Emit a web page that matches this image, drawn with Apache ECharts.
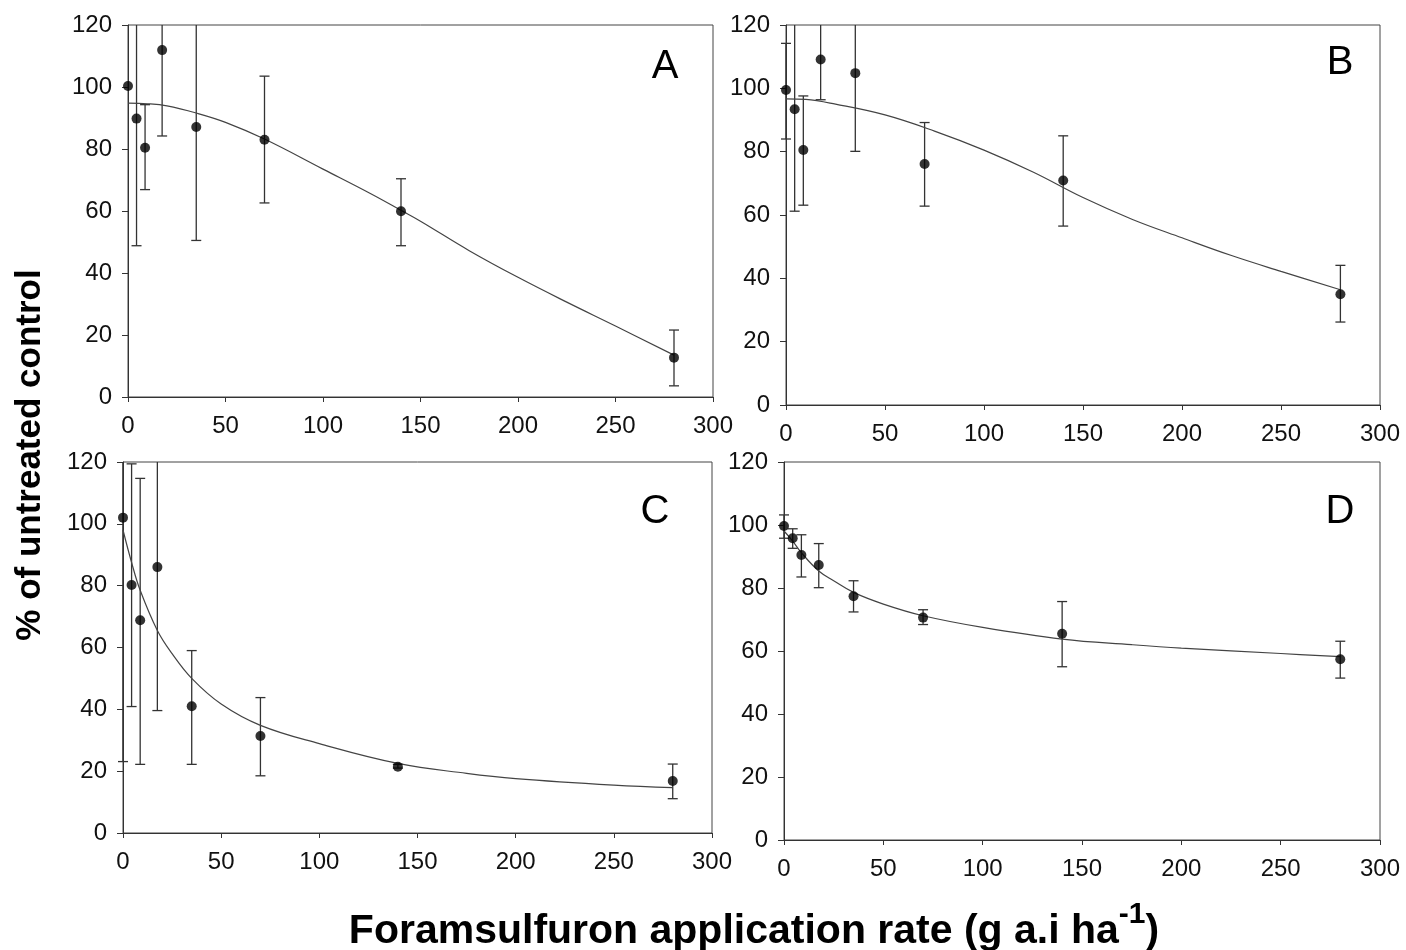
<!DOCTYPE html>
<html lang="en">
<head>
    <meta charset="UTF-8">
    <title>Foramsulfuron dose response</title>
    <script type="text/javascript" src="https://cdn.jsdelivr.net/npm/echarts@6/dist/echarts.min.js"></script>
    <style>
        html, body { margin: 0; padding: 0; background: #fff; }
        #chart { width: 1406px; height: 950px; }
    </style>
</head>
<body>
<div id="chart"></div>
<script type="text/javascript">

    // application rates (g a.i ha-1)
    var rates = [0, 4.375, 8.75, 17.5, 35, 70, 140, 280];

    // panel A
    var meanA = [100.3, 89.8, 80.4, 111.9, 87.1, 83.0, 59.9, 12.7];
    var lowA = [null, 48.8, 66.9, 84.2, 50.5, 62.6, 48.8, 3.6];
    var highA = [null, 130.8, 94.3, 139.6, 123.7, 103.5, 70.4, 21.6];
    var curveXA = [0, 10, 20, 35, 50, 70, 100, 125, 140, 150, 175, 200, 225, 250, 280];
    var curveYA = [94.8, 94.6, 93.9, 91.6, 88.6, 83.2, 73.5, 65.4, 60.2, 56.7, 47.2, 38.6, 30.6, 22.9, 13.5];

    // panel B
    var meanB = [99.5, 93.4, 80.5, 109.1, 104.8, 76.1, 70.9, 35.0];
    var lowB = [84.0, 61.2, 63.1, 96.4, 80.1, 62.8, 56.5, 26.2];
    var highB = [114.2, 125.4, 97.6, 121.8, 129.5, 89.2, 85.0, 44.1];
    var curveXB = [0, 10, 25, 50, 75, 100, 125, 150, 175, 200, 225, 250, 280];
    var curveYB = [96.7, 96.5, 95.0, 91.6, 86.5, 80.5, 73.5, 65.5, 58.6, 52.8, 47.2, 42.2, 36.4];

    // panel C
    var meanC = [102.0, 80.2, 68.8, 86.0, 41.0, 31.4, 21.4, 16.8];
    var lowC = [23.1, 40.9, 22.2, 39.6, 22.2, 18.5, 21.0, 11.1];
    var highC = [180.9, 119.4, 114.7, 132.4, 59.0, 43.8, 22.2, 22.3];
    var curveXC = [0, 4.375, 8.75, 17.5, 25, 35, 50, 70, 100, 140, 175, 200, 250, 280];
    var curveYC = [98.0, 87.5, 78.5, 65.5, 58.0, 50.0, 41.7, 34.8, 28.9, 22.5, 19.3, 17.6, 15.5, 14.7];

    // panel D
    var meanD = [99.7, 95.8, 90.5, 87.3, 77.4, 70.6, 65.5, 57.4];
    var lowD = [95.8, 92.6, 83.5, 80.1, 72.4, 68.4, 55.0, 51.4];
    var highD = [103.2, 98.8, 96.9, 94.1, 82.3, 73.1, 75.7, 63.1];
    var curveXD = [0, 4.375, 8.75, 17.5, 25, 35, 50, 70, 100, 140, 175, 200, 250, 280];
    var curveYD = [98.1, 94.9, 91.2, 85.4, 82.3, 78.6, 74.9, 71.2, 67.5, 63.8, 62.0, 60.9, 59.2, 58.2];

    var xTicks = ['0', '50', '100', '150', '200', '250', '300'];
    var yTicks = ['0', '20', '40', '60', '80', '100', '120'];
    var panelLetters = ['A', 'B', 'C', 'D'];

    var panels = [
        {mean: meanA, low: lowA, high: highA, cx: curveXA, cy: curveYA},
        {mean: meanB, low: lowB, high: highB, cx: curveXB, cy: curveYB},
        {mean: meanC, low: lowC, high: highC, cx: curveXC, cy: curveYC},
        {mean: meanD, low: lowD, high: highD, cx: curveXD, cy: curveYD}
    ];

    // grid boxes in pixels
    var grids = [
        {left: 128, top: 25, width: 585, height: 372},
        {left: 786, top: 25, width: 594, height: 380},
        {left: 123, top: 462, width: 589, height: 371},
        {left: 784, top: 462, width: 596, height: 378}
    ];
    var letterPos = [[665, 67], [1340, 63], [655, 512], [1340, 512]];

    var YMAX = 120;
    var font = 'Liberation Sans, Arial, sans-serif';

    function errorBar(params, api) {
        var x = api.value(0), lo = api.value(1), hi = api.value(2);
        var clipped = hi > YMAX;
        var pLo = api.coord([x, lo]);
        var pHi = api.coord([x, Math.min(hi, YMAX)]);
        var w = 5;
        var st = {stroke: '#333', lineWidth: 1.3};
        var kids = [
            {type: 'line', shape: {x1: pLo[0], y1: pLo[1], x2: pHi[0], y2: pHi[1]}, style: st},
            {type: 'line', shape: {x1: pLo[0] - w, y1: pLo[1], x2: pLo[0] + w, y2: pLo[1]}, style: st}
        ];
        if (!clipped) {
            kids.push({type: 'line', shape: {x1: pHi[0] - w, y1: pHi[1], x2: pHi[0] + w, y2: pHi[1]}, style: st});
        }
        return {type: 'group', children: kids};
    }

    var option = {
        animation: false,
        backgroundColor: '#fff',
        grid: [],
        xAxis: [],
        yAxis: [],
        series: [],
        graphic: []
    };

    panels.forEach(function (p, i) {
        var g = grids[i];
        option.grid.push({left: g.left, top: g.top, width: g.width, height: g.height,
            show: true, borderColor: '#444', borderWidth: 1, backgroundColor: 'transparent'});
        option.xAxis.push({
            gridIndex: i, type: 'value', min: 0, max: 300, interval: 50,
            axisLine: {show: true, onZero: false, lineStyle: {color: '#333', width: 1}},
            axisTick: {show: true, length: 5, lineStyle: {color: '#333'}},
            axisLabel: {fontSize: 24, color: '#111', margin: 17, fontFamily: font,
                formatter: function (v) { return xTicks[v / 50]; }},
            splitLine: {show: false}
        });
        option.yAxis.push({
            gridIndex: i, type: 'value', min: 0, max: YMAX, interval: 20,
            axisLine: {show: true, onZero: false, lineStyle: {color: '#333', width: 1}},
            axisTick: {show: true, length: 6, lineStyle: {color: '#333'}},
            axisLabel: {fontSize: 24, color: '#111', margin: 16, fontFamily: font,
                formatter: function (v) { return yTicks[v / 20]; }},
            splitLine: {show: false}
        });

        var bars = [];
        for (var k = 0; k < rates.length; k++) {
            if (p.low[k] != null) bars.push([rates[k], p.low[k], p.high[k]]);
        }
        option.series.push({
            type: 'custom', xAxisIndex: i, yAxisIndex: i, z: 2,
            renderItem: errorBar, encode: {x: 0, y: [1, 2]}, data: bars
        });

        var fit = p.cx.map(function (x, k) { return [x, p.cy[k]]; });
        option.series.push({
            type: 'line', xAxisIndex: i, yAxisIndex: i, z: 3,
            data: fit, smooth: 0.4, showSymbol: false,
            lineStyle: {color: '#444', width: 1.2}
        });

        var pts = rates.map(function (x, k) { return [x, p.mean[k]]; });
        option.series.push({
            type: 'scatter', xAxisIndex: i, yAxisIndex: i, z: 4,
            data: pts, symbol: 'circle', symbolSize: 10,
            itemStyle: {color: '#000'}
        });

        option.graphic.push({
            type: 'text', x: letterPos[i][0], y: letterPos[i][1],
            style: {text: panelLetters[i], fontSize: 40, fontFamily: font, fill: '#000',
                align: 'center', verticalAlign: 'middle'}
        });
    });

    // axis titles
    option.graphic.push({
        type: 'text', x: 30, y: 455, rotation: Math.PI / 2,
        style: {text: '% of untreated control', fontSize: 35, fontWeight: 'bold', fontFamily: font,
            fill: '#000', align: 'center', verticalAlign: 'middle'}
    });
    option.graphic.push({
        type: 'text', x: 754, y: 926,
        style: {
            text: '{m|Foramsulfuron application rate (g a.i ha}{s|-1}{m|)}',
            align: 'center', verticalAlign: 'middle',
            rich: {
                m: {fontSize: 41, fontWeight: 'bold', fontFamily: font, fill: '#000', lineHeight: 52, verticalAlign: 'bottom'},
                s: {fontSize: 30, fontWeight: 'bold', fontFamily: font, fill: '#000', lineHeight: 30, verticalAlign: 'top'}
            }
        }
    });

    var myChart = echarts.init(document.getElementById('chart'));
    myChart.setOption(option);

</script>
</body>
</html>
